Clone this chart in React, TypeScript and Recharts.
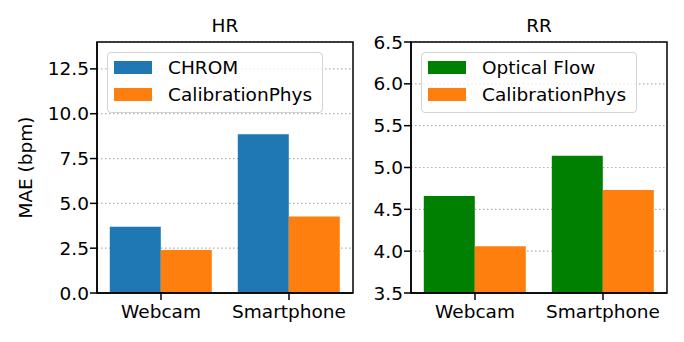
import React from 'react';
import { BarChart, Bar, XAxis, YAxis, CartesianGrid, Legend, Label } from 'recharts';

const categories = ['Webcam', 'Smartphone'];
const hrChrom = [3.7, 8.85];
const hrCalib = [2.4, 4.26];
const rrOptical = [4.66, 5.14];
const rrCalib = [4.06, 4.73];
const hrTicks = [0, 2.5, 5, 7.5, 10, 12.5];
const rrTicks = [3.5, 4, 4.5, 5, 5.5, 6, 6.5];
const hrDomain = [0, 14];
const rrDomain = [3.5, 6.5];

const FONT = '"DejaVu Sans", sans-serif';
const FS = 18.5;

type Series = { key: string; name: string; color: string };

const hrSeries: Series[] = [
  { key: 'a', name: 'CHROM', color: '#1f77b4' },
  { key: 'b', name: 'CalibrationPhys', color: '#ff7f0e' },
];
const rrSeries: Series[] = [
  { key: 'a', name: 'Optical Flow', color: '#008000' },
  { key: 'b', name: 'CalibrationPhys', color: '#ff7f0e' },
];

const hrData = categories.map((c, i) => ({ cat: c, a: hrChrom[i], b: hrCalib[i] }));
const rrData = categories.map((c, i) => ({ cat: c, a: rrOptical[i], b: rrCalib[i] }));

const makeLegend = (series: Series[]) => () => (
  <div
    style={{
      position: 'relative',
      width: 216,
      height: 61,
      boxSizing: 'border-box',
      border: '1px solid #d3d3d3',
      borderRadius: 4,
      background: 'rgba(255,255,255,0.8)',
      fontFamily: FONT,
      fontSize: FS,
      color: '#000',
    }}
  >
    {series.map((s, i) => (
      <div
        key={s.key}
        style={{ position: 'absolute', left: 6, top: 8 + i * 27, height: 13, display: 'flex', alignItems: 'center' }}
      >
        <span style={{ display: 'inline-block', width: 38, height: 13, background: s.color }} />
        <span style={{ marginLeft: 16, lineHeight: '13px', whiteSpace: 'nowrap' }}>{s.name}</span>
      </div>
    ))}
  </div>
);

type PanelProps = {
  title: string;
  data: any[];
  series: Series[];
  domain: number[];
  ticks: number[];
  yLabel?: string;
  left: number;
  width: number;
  margin: { top: number; right: number; bottom: number; left: number };
  legendLeft: number;
};

function Panel({ title, data, series, domain, ticks, yLabel, left, width, margin, legendLeft }: PanelProps) {
  const plotLeft = margin.left + 60;
  const plotRight = width - margin.right;
  const plotTop = margin.top;
  const plotBottom = 342 - margin.bottom - 30;
  return (
    <div style={{ position: 'absolute', left, top: 0, width, height: 342 }}>
      <div
        style={{
          position: 'absolute',
          left: plotLeft,
          width: plotRight - plotLeft,
          top: 17,
          textAlign: 'center',
          fontFamily: FONT,
          fontSize: FS,
          lineHeight: '1',
          color: '#000',
        }}
      >
        {title}
      </div>
      <BarChart width={width} height={342} data={data} margin={margin} barCategoryGap="10%" barGap={0}>
        <CartesianGrid
          vertical={false}
          stroke="#b0b0b0"
          strokeWidth={1.2}
          strokeDasharray="1.5 2.5"
        />
        <XAxis
          dataKey="cat"
          height={30}
          tickSize={7}
          tickMargin={5}
          tick={{ fontFamily: FONT, fontSize: FS, fill: '#000' }}
          tickLine={{ stroke: '#000', strokeWidth: 1.5 }}
          axisLine={{ stroke: '#000', strokeWidth: 1.5 }}
        />
        <YAxis
          width={60}
          domain={domain}
          ticks={ticks}
          type="number"
          allowDataOverflow
          interval={0}
          tickSize={7}
          tickMargin={1}
          tickFormatter={(v: number) => v.toFixed(1)}
          tick={{ fontFamily: FONT, fontSize: FS, fill: '#000' }}
          tickLine={{ stroke: '#000', strokeWidth: 1.5 }}
          axisLine={{ stroke: '#000', strokeWidth: 1.5 }}
        >
          {yLabel ? (
            <Label
              content={(props: any) => {
                const vb = props.viewBox || { x: 0, y: 0, width: 0, height: 0 };
                const x = vb.x - 5;
                const y = vb.y + vb.height / 2;
                return (
                  <text
                    x={x}
                    y={y}
                    transform={`rotate(-90 ${x} ${y})`}
                    textAnchor="middle"
                    fontFamily={FONT}
                    fontSize={FS}
                    fill="#000"
                  >
                    {yLabel}
                  </text>
                );
              }}
            />
          ) : null}
        </YAxis>
        <Legend
          layout="horizontal"
          verticalAlign="middle"
          align="center"
          wrapperStyle={{ left: legendLeft, top: 52, width: 216, height: 61 }}
          content={makeLegend(series)}
        />
        {series.map((s) => (
          <Bar key={s.key} dataKey={s.key} name={s.name} fill={s.color} isAnimationActive={false} />
        ))}
      </BarChart>
      <svg
        width={width}
        height={342}
        style={{ position: 'absolute', left: 0, top: 0, pointerEvents: 'none' }}
      >
        <rect
          x={plotLeft}
          y={plotTop}
          width={plotRight - plotLeft}
          height={plotBottom - plotTop}
          fill="none"
          stroke="#000"
          strokeWidth={1.5}
        />
      </svg>
    </div>
  );
}

export default function App() {
  return (
    <div style={{ position: 'absolute', left: 0, top: 0, width: 684, height: 342, background: '#fff' }}>
      <Panel
        title="HR"
        data={hrData}
        series={hrSeries}
        domain={hrDomain}
        ticks={hrTicks}
        yLabel="MAE (bpm)"
        left={0}
        width={360}
        margin={{ top: 42, right: 7, bottom: 19, left: 37 }}
        legendLeft={107}
      />
      <Panel
        title="RR"
        data={rrData}
        series={rrSeries}
        domain={rrDomain}
        ticks={rrTicks}
        left={351}
        width={330}
        margin={{ top: 42, right: 14, bottom: 19, left: 0 }}
        legendLeft={70}
      />
    </div>
  );
}
